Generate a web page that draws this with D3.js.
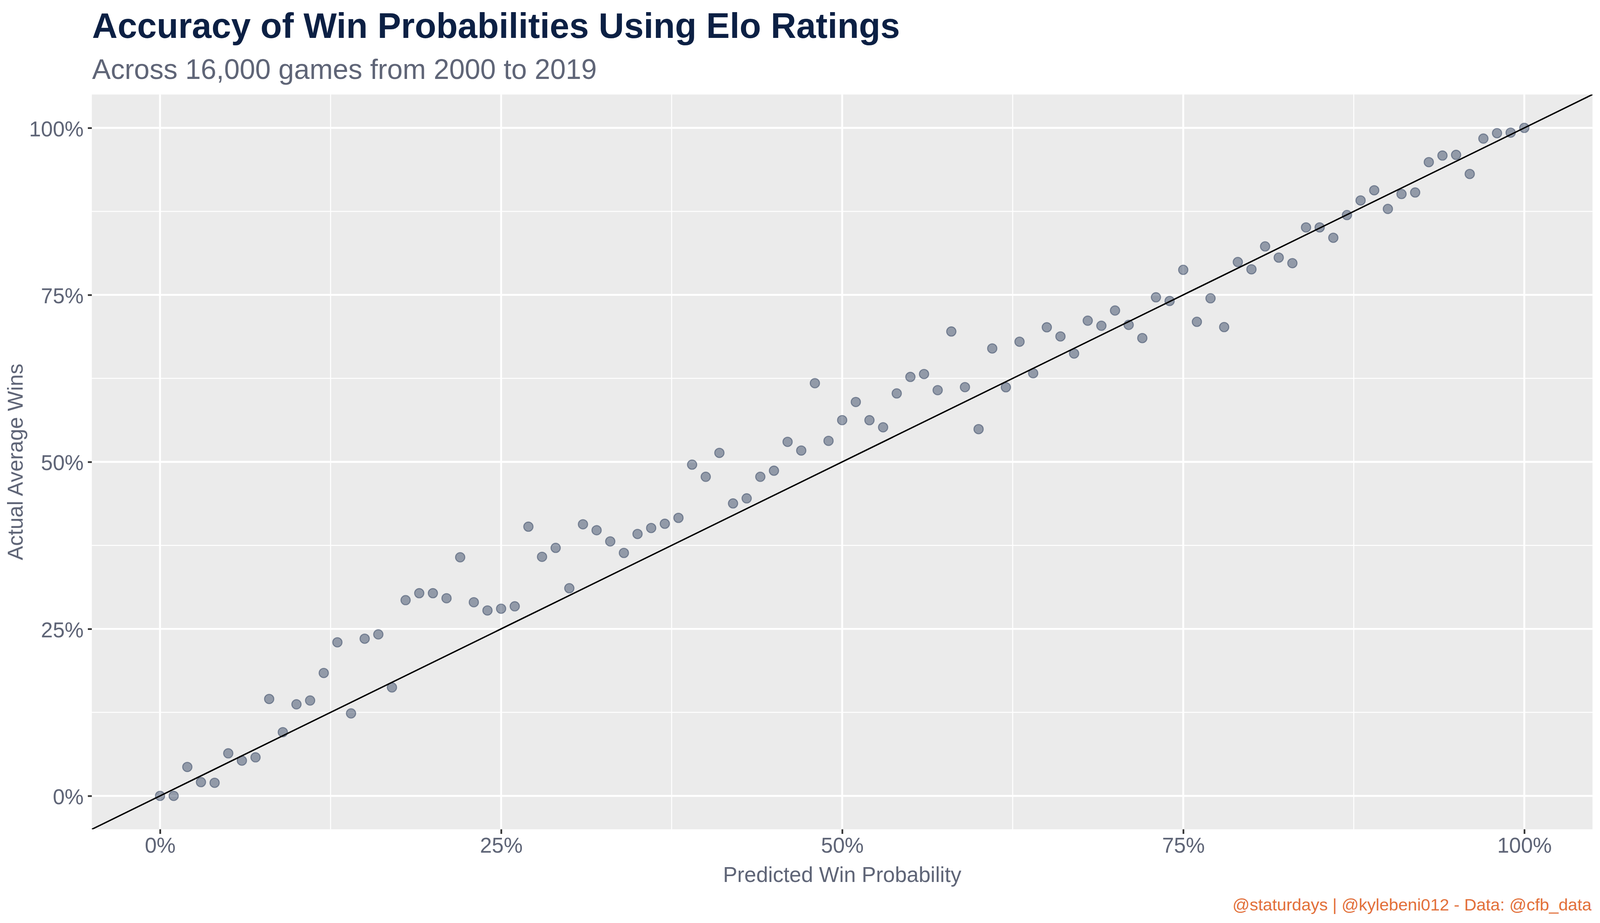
<!DOCTYPE html>
<html>
<head>
<meta charset="utf-8">
<script src="https://cdn.jsdelivr.net/npm/d3@7"></script>
<style>
  html, body { margin: 0; padding: 0; background: #ffffff; overflow: hidden; width: 100%; height: 100%; }
  svg { display: block; position: absolute; left: 0; top: 0; }
  text { font-family: "Liberation Sans", Arial, Helvetica, sans-serif; }
</style>
</head>
<body>
<svg id="chart"></svg>
<script>
// ---- Data (percent) ----
const predicted = [0,1,2,3,4,5,6,7,8,9,10,11,12,13,14,15,16,17,18,19,20,21,22,23,24,25,26,27,28,29,30,31,32,33,34,35,36,37,38,39,40,41,42,43,44,45,46,47,48,49,50,51,52,53,54,55,56,57,58,59,60,61,62,63,64,65,66,67,68,69,70,71,72,73,74,75,76,77,78,79,80,81,82,83,84,85,86,87,88,89,90,91,92,93,94,95,96,97,98,99,100];
const actual = [0.0,0.0,4.33,2.06,1.96,6.37,5.28,5.77,14.51,9.54,13.71,14.28,18.40,22.99,12.35,23.53,24.18,16.24,29.30,30.34,30.34,29.59,35.72,28.99,27.76,28.02,28.38,40.30,35.79,37.13,31.09,40.66,39.77,38.10,36.37,39.21,40.10,40.74,41.62,49.59,47.77,51.35,43.78,44.54,47.77,48.68,53.00,51.70,61.78,53.15,56.25,58.97,56.24,55.18,60.25,62.72,63.15,60.74,69.52,61.19,54.90,66.98,61.17,67.99,63.27,70.15,68.78,66.22,71.14,70.38,72.66,70.51,68.53,74.64,74.09,78.75,70.97,74.49,70.18,79.92,78.83,82.26,80.58,79.75,85.10,85.10,83.55,86.95,89.14,90.66,87.87,90.10,90.33,94.87,95.86,95.96,93.10,98.40,99.21,99.29,100.0];
const majorTicks = [0, 25, 50, 75, 100];
const minorTicks = [12.5, 37.5, 62.5, 87.5];
const titleText = "Accuracy of Win Probabilities Using Elo Ratings";
const subtitleText = "Across 16,000 games from 2000 to 2019";
const xTitle = "Predicted Win Probability";
const yTitle = "Actual Average Wins";
const captionText = "@staturdays | @kylebeni012 - Data: @cfb_data";

// ---- Layout (designed for 4724 x 2362, mapped onto the actual viewport) ----
const BW = 4724, BH = 2362;
const VW = window.innerWidth || BW, VH = window.innerHeight || BH;
const sx = VW / BW, sy = VH / BH, k = Math.min(sx, sy);
const X = v => v * sx, Y = v => v * sy;

const panel = { left: X(271.1), right: X(4701.9), top: Y(241.8), bottom: Y(2122.2) };
const navy = "#0c2044";
const grey = "#5f6577";
const font = '"Liberation Sans", Arial, Helvetica, sans-serif';

const svg = d3.select("#chart").attr("width", VW).attr("height", VH);
svg.append("rect").attr("width", VW).attr("height", VH).attr("fill", "#ffffff");

const x = d3.scaleLinear().domain([-5, 105]).range([panel.left, panel.right]);
const y = d3.scaleLinear().domain([-5, 105]).range([panel.bottom, panel.top]);

svg.append("rect")
  .attr("x", panel.left).attr("y", panel.top)
  .attr("width", panel.right - panel.left).attr("height", panel.bottom - panel.top)
  .attr("fill", "#ebebeb");

const grid = svg.append("g");
function gridLines(vals, w) {
  grid.append("g").selectAll("line").data(vals).join("line")
    .attr("x1", d => x(d)).attr("x2", d => x(d))
    .attr("y1", panel.top).attr("y2", panel.bottom)
    .attr("stroke", "#ffffff").attr("stroke-width", w * k);
  grid.append("g").selectAll("line").data(vals).join("line")
    .attr("y1", d => y(d)).attr("y2", d => y(d))
    .attr("x1", panel.left).attr("x2", panel.right)
    .attr("stroke", "#ffffff").attr("stroke-width", w * k);
}
gridLines(minorTicks, 2.9);
gridLines(majorTicks, 5.6);

svg.append("clipPath").attr("id", "clip")
  .append("rect")
  .attr("x", panel.left).attr("y", panel.top)
  .attr("width", panel.right - panel.left).attr("height", panel.bottom - panel.top);

const plot = svg.append("g").attr("clip-path", "url(#clip)");

plot.selectAll("circle").data(predicted.map((p, i) => ({ p, a: actual[i] }))).join("circle")
  .attr("cx", d => x(d.p)).attr("cy", d => y(d.a))
  .attr("r", 13.8 * k)
  .attr("fill", navy).attr("fill-opacity", 0.4)
  .attr("stroke", navy).attr("stroke-opacity", 0.4).attr("stroke-width", 3 * k);

plot.append("line")
  .attr("x1", x(-5)).attr("y1", y(-5))
  .attr("x2", x(105)).attr("y2", y(105))
  .attr("stroke", "#000000").attr("stroke-width", 4.2 * k);

const fmt = d => d + "%";
const tickFont = 63 * k;
const xAxis = svg.append("g").attr("transform", `translate(0,${panel.bottom})`)
  .call(d3.axisBottom(x).tickValues(majorTicks).tickFormat(fmt).tickSize(11.7 * sy).tickPadding(9.4 * sy));
const yAxis = svg.append("g").attr("transform", `translate(${panel.left},0)`)
  .call(d3.axisLeft(y).tickValues(majorTicks).tickFormat(fmt).tickSize(11.7 * sx).tickPadding(12.4 * sx));
[xAxis, yAxis].forEach(a => {
  a.select(".domain").remove();
  a.selectAll(".tick line").attr("stroke", "#333333").attr("stroke-width", 5 * k);
  a.selectAll(".tick text").attr("fill", grey).style("font-size", tickFont + "px").style("font-family", font);
});
yAxis.selectAll(".tick text").attr("dy", "0.38em");

svg.append("text")
  .attr("x", (panel.left + panel.right) / 2).attr("y", Y(2256.7))
  .attr("text-anchor", "middle")
  .attr("fill", grey).style("font-size", (63 * k) + "px")
  .text(xTitle);
svg.append("text")
  .attr("transform", `translate(${X(67)},${(panel.top + panel.bottom) / 2}) rotate(-90)`)
  .attr("text-anchor", "middle")
  .attr("fill", grey).style("font-size", (63 * k) + "px")
  .text(yTitle);

svg.append("text")
  .attr("x", X(272)).attr("y", Y(97.3))
  .attr("fill", navy).style("font-size", (104 * k) + "px").style("font-weight", "bold")
  .text(titleText);
svg.append("text")
  .attr("x", X(272)).attr("y", Y(201.7))
  .attr("fill", grey).style("font-size", (82.5 * k) + "px")
  .text(subtitleText);

svg.append("text")
  .attr("x", X(4699)).attr("y", Y(2330))
  .attr("text-anchor", "end")
  .attr("fill", "#e2703a").style("font-size", (50 * k) + "px")
  .text(captionText);
</script>
</body>
</html>
